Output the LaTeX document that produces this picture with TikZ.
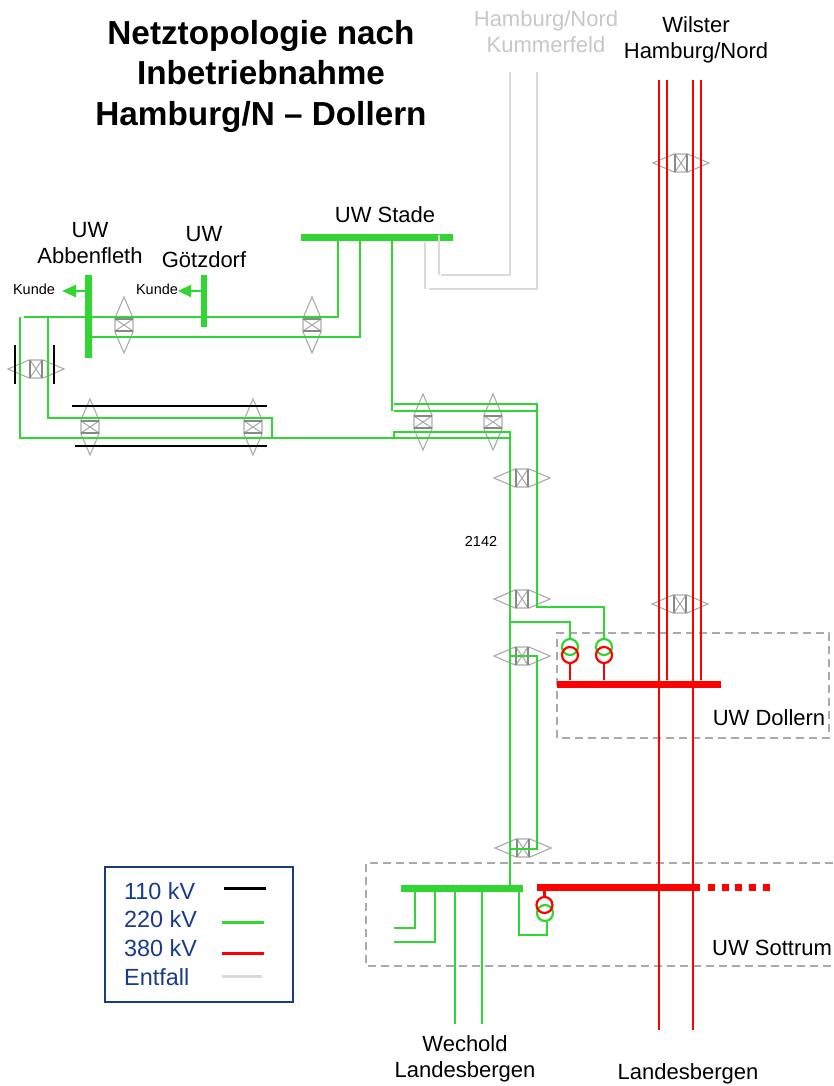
\documentclass[tikz,border=0pt]{standalone}
\usepackage{fontspec}
\setmainfont{Liberation Sans}
\usetikzlibrary{arrows.meta,calc}
\definecolor{gruen}{RGB}{50,214,50}
\definecolor{rot}{RGB}{255,0,0}
\definecolor{navy}{RGB}{24,60,140}
\definecolor{entfall}{RGB}{218,218,218}
\definecolor{schalter}{RGB}{170,170,170}

\begin{document}
\begin{tikzpicture}[x=1pt,y=-1pt,>=Latex,
  l110/.style={draw=black,line width=2.2},
  l220/.style={draw=gruen,line width=2.3},
  l380/.style={draw=rot,line width=2.5},
  lent/.style={draw=entfall,line width=2.3},
  bus220/.style={fill=gruen,inner sep=0,minimum height=7},
  bus380/.style={fill=rot,inner sep=0,minimum height=7},
  trg/.style={draw=gruen,line width=2.2,circle,inner sep=0,minimum size=16},
  trr/.style={draw=rot,line width=2.2,circle,inner sep=0,minimum size=16},
  zone/.style={draw=schalter,line width=1.8,dash pattern=on 8 off 5},
  lbl/.style={font=\fontsize{22}{26}\selectfont,align=center,inner sep=0},
  klein/.style={font=\fontsize{14.5}{17}\selectfont,inner sep=0},
  leg/.style={font=\fontsize{23.4}{28}\selectfont,text=navy,anchor=west,inner sep=0},
  switch/.pic={
    \draw[schalter,line width=1.1] (-28,0)--(-7,-9)--(7,-9)--(28,0)--(7,9)--(-7,9)--cycle;
    \draw[schalter,line width=1] (-6,-9)--(6,9) (-6,9)--(6,-9);
    \draw[schalter!80!black,line width=1.7] (-6,-9)--(-6,9) (6,-9)--(6,9);
  }]
\useasboundingbox (0,0) rectangle (833,1086);

% Texte
\node[font=\fontsize{33.3}{40.5}\selectfont\bfseries,align=center,inner sep=0] (titel) at (261,76)
  {Netztopologie nach\\Inbetriebnahme\\Hamburg/N -- Dollern};
\node[lbl,text=black!22] (oben1) at (546,32) {Hamburg/Nord\\Kummerfeld};
\node[lbl] (oben2) at (696,40) {Wilster\\Hamburg/Nord};
\node[lbl] (tStade) at (385,215) {UW Stade};
\node[lbl] (tAbb) at (90,243) {UW\\Abbenfleth};
\node[lbl] (tGoe) at (204,247) {UW\\Götzdorf};
\node[klein] (k1) at (34,289) {Kunde};
\node[klein] (k2) at (157,289) {Kunde};
\node[klein] (nr) at (481,541) {2142};
\node[lbl] (tDol) at (769,718) {UW Dollern};
\node[lbl] (tSot) at (772,948) {UW Sottrum};
\node[lbl] (tWech) at (465,1059) {Wechold\\Landesbergen};
\node[lbl] (tLand) at (688,1074) {Landesbergen};

% Schaltfelder
\draw[zone] (557,738) -- (557,633) -- (829,633) -- (829,738) -- cycle;
\draw[zone] (833,863) -- (366,863) -- (366,966) -- (833,966);

% Trenner
\pic at (681,163) {switch};
\pic at (522,478) {switch};
\pic at (522,599) {switch};
\pic at (522,656) {switch};
\pic at (680,604) {switch};
\pic at (523,848) {switch};
\pic at (36,369) {switch};
\pic[rotate=90] at (124,325) {switch};
\pic[rotate=90] at (312,325) {switch};
\pic[rotate=90] at (90,427) {switch};
\pic[rotate=90] at (253,427) {switch};
\pic[rotate=90] at (423,422) {switch};
\pic[rotate=90] at (493,422) {switch};

% Sammelschienen
\node[bus220,minimum width=152] (stade) at (377,237.5) {};
\node[bus220,minimum width=7,minimum height=83] (abb) at (88,316.5) {};
\node[bus220,minimum width=6,minimum height=52] (goe) at (204,301) {};
\node[bus380,minimum width=164,minimum height=7] (dollern) at (639,684) {};
\node[bus220,minimum width=122] (sotG) at (462,888.5) {};
\node[bus380,minimum width=163] (sotR) at (618.5,887.5) {};

% Trafos
\node[trg] (tr1g) at (570,647) {};
\node[trg] (tr2g) at (604,647) {};
\node[trr] (tr1r) at (570,655) {};
\node[trr] (tr2r) at (604,655) {};
\node[trg] (tr3g) at (545,913) {};
\node[trr] (tr3r) at (544.5,905) {};

% 110 kV
\coordinate (sa1) at (15,345); \coordinate (sa2) at (15,384);
\coordinate (sb1) at (54,345); \coordinate (sb2) at (54,384);
\coordinate (sc1) at (72,406); \coordinate (sc2) at (267,406);
\coordinate (sd1) at (75,446); \coordinate (sd2) at (267,446);
\draw[l110] (sa1) -- (sa2);
\draw[l110] (sb1) -- (sb2);
\draw[l110] (sc1) -- (sc2);
\draw[l110] (sd1) -- (sd2);

% Entfall
\coordinate (ea1) at (439,235); \coordinate (ea2) at (441,275); \coordinate (ea3) at (510,72);
\coordinate (eb1) at (425,242); \coordinate (eb2) at (429,289); \coordinate (eb3) at (537,72);
\draw[lent] (ea1) -- (ea1 |- ea2);
\draw[lent] (ea2) -| (ea3);
\draw[lent] (eb1) -- (eb1 |- eb2);
\draw[lent] (eb2) -| (eb3);

% 220 kV
\coordinate (st1) at (338,241); \coordinate (w1) at (24,317);
\coordinate (st2) at (360,241); \coordinate (w2) at (91,337);
\coordinate (st3) at (392,241); \coordinate (w3) at (392,411);
\draw[l220] (st1) |- (w1);
\draw[l220] (st2) |- (w2);
\draw[l220] (st3) -- (w3);
\coordinate (b1) at (48,317); \coordinate (b2) at (272,418); \coordinate (b3) at (272,438);
\draw[l220] (b1) |- (b2) -- (b3);
\coordinate (c1) at (20,317); \coordinate (c2) at (510,438);
\draw[l220] (c1) |- (c2);
\coordinate (f1) at (394,438); \coordinate (f2) at (510,432);
\draw[l220] (f1) |- (f2) -- (f2 |- sotG.north);
\coordinate (k1a) at (394,404); \coordinate (k2a) at (537,607);
\draw[l220] (k1a) -| (k2a) -| (tr2g.north);
\coordinate (k3) at (394,411); \coordinate (k4) at (537,411);
\draw[l220] (k3) -- (k4);
\coordinate (j1) at (509,622);
\draw[l220] (j1) -| (tr1g.north);
\coordinate (m1) at (510,656); \coordinate (m2) at (537,849); \coordinate (m3) at (510,849);
\draw[l220] (m1) -| (m2) -- (m3);
\coordinate (a1) at (415,892); \coordinate (a2) at (394,928);
\coordinate (a3) at (435,892); \coordinate (a4) at (394,942);
\coordinate (a5) at (455,892); \coordinate (a6) at (455,1024);
\coordinate (a7) at (482,892); \coordinate (a8) at (482,1024);
\coordinate (a9) at (519,892); \coordinate (a10) at (547,935);
\draw[l220] (a1) |- (a2);
\draw[l220] (a3) |- (a4);
\draw[l220] (a5) -- (a6);
\draw[l220] (a7) -- (a8);
\draw[l220] (a9) |- (a10) -- (a10 |- tr3g.south);
\coordinate (p1) at (62,291); \coordinate (p2) at (178,291);
\draw[l220,-{Triangle[length=14,width=12,fill=gruen]}] (p1 -| abb) -- (p1);
\draw[l220,-{Triangle[length=13,width=12,fill=gruen]}] (p2 -| goe) -- (p2);

% 380 kV
\coordinate (r1) at (659,80); \coordinate (r2) at (659,1030);
\coordinate (r3) at (667,80);
\coordinate (r4) at (693,80); \coordinate (r5) at (693,1030);
\coordinate (r6) at (701,80);
\draw[l380] (r1) -- (r2);
\draw[l380] (r3) -- (r3 |- dollern.north);
\draw[l380] (r4) -- (r5);
\draw[l380] (r6) -- (r6 |- dollern.north);
\draw[l380] (tr1r) -- (tr1r |- dollern.north);
\draw[l380] (tr2r) -- (tr2r |- dollern.north);
\draw[l380] (tr3r) -- (tr3r |- sotR.south);
\coordinate (dot1) at (708,887.5); \coordinate (dot2) at (771,887.5);
\draw[rot,line width=7,dash pattern=on 6.8 off 6.9] (dot1) -- (dot2);

% Legende
\node[draw=navy,line width=2,inner sep=0,minimum width=188,minimum height=135] (legende) at (199,934.5) {};
\node[leg] (t110) at (124,891) {110 kV};
\node[leg] (t220) at (124,919) {220 kV};
\node[leg] (t380) at (124,948) {380 kV};
\node[leg] (tent) at (124,977) {Entfall};
\coordinate (q1) at (224,888); \coordinate (q2) at (266,888);
\coordinate (q3) at (222,922); \coordinate (q4) at (264,922);
\coordinate (q5) at (222,953); \coordinate (q6) at (264,953);
\coordinate (q7) at (222,976); \coordinate (q8) at (262,976);
\draw[l110,line width=3] (q1) -- (q2);
\draw[l220,line width=3] (q3) -- (q4);
\draw[l380,line width=3] (q5) -- (q6);
\draw[lent,line width=3] (q7) -- (q8);
\end{tikzpicture}
\end{document}
